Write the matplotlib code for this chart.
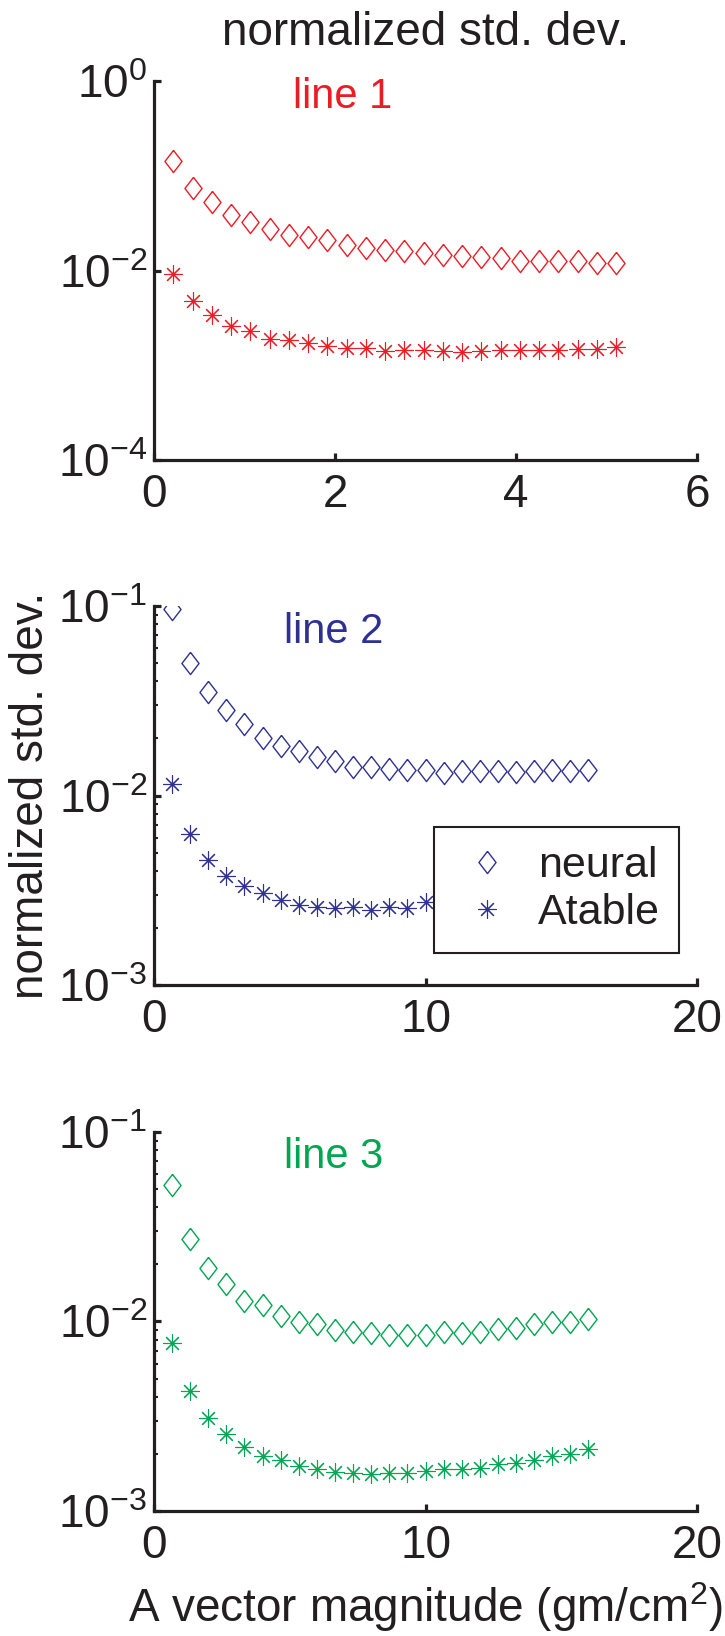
import matplotlib
matplotlib.use('Agg')
import matplotlib.pyplot as plt
from matplotlib.ticker import LogLocator, NullFormatter, NullLocator

plt.rcParams['font.family'] = ['Liberation Sans', 'DejaVu Sans']
plt.rcParams['mathtext.fontset'] = 'custom'
plt.rcParams['mathtext.rm'] = 'Liberation Sans'
plt.rcParams['axes.unicode_minus'] = False

# data
x1 = [0.21, 0.43, 0.64, 0.85, 1.06, 1.28, 1.49, 1.70, 1.91, 2.13, 2.34, 2.55,
      2.76, 2.98, 3.19, 3.40, 3.61, 3.83, 4.04, 4.25, 4.46, 4.68, 4.89, 5.10]
neural1 = [0.144, 0.0741, 0.0524, 0.0389, 0.0325, 0.0277, 0.0239, 0.0224,
           0.0210, 0.0188, 0.0173, 0.0165, 0.0160, 0.0152, 0.0147, 0.0143,
           0.0140, 0.0134, 0.0127, 0.0127, 0.0126, 0.0126, 0.0121, 0.0119]
atable1 = [0.00908, 0.00472, 0.00336, 0.00257, 0.00228, 0.00191, 0.00183,
           0.00172, 0.00161, 0.00153, 0.00151, 0.00142, 0.00144, 0.00144,
           0.00142, 0.00138, 0.00142, 0.00146, 0.00144, 0.00144, 0.00146,
           0.00149, 0.00149, 0.00156]

x23 = [0.67, 1.33, 2.0, 2.67, 3.33, 4.0, 4.67, 5.33, 6.0, 6.67, 7.33, 8.0,
       8.67, 9.33, 10.0, 10.67, 11.33, 12.0, 12.67, 13.33, 14.0, 14.67, 15.33, 16.0]
neural2 = [0.0960, 0.0501, 0.0351, 0.0282, 0.0237, 0.0201, 0.0183, 0.0171,
           0.0160, 0.0153, 0.0142, 0.0142, 0.0138, 0.0137, 0.0136, 0.0131,
           0.0134, 0.0134, 0.0134, 0.0133, 0.0134, 0.0136, 0.0134, 0.0136]
atable2 = [0.01153, 0.00627, 0.00457, 0.00376, 0.00333, 0.00307, 0.00281,
           0.00264, 0.00257, 0.00254, 0.00259, 0.00248, 0.00259, 0.00254,
           0.00275, 0.0027, 0.0028, 0.0028, 0.0029, 0.0030, 0.0030, 0.0031,
           0.0032, 0.0033]
neural3 = [0.0523, 0.0274, 0.0192, 0.0157, 0.0129, 0.0122, 0.0107, 0.00996,
           0.00967, 0.00902, 0.00879, 0.00871, 0.00853, 0.00853, 0.00853,
           0.00879, 0.00871, 0.00879, 0.00916, 0.00927, 0.00967, 0.00989,
           0.00996, 0.0103]
atable3 = [0.00774, 0.00428, 0.00309, 0.00254, 0.00218, 0.00194, 0.00185,
           0.00173, 0.00166, 0.00161, 0.00159, 0.00156, 0.00158, 0.00158,
           0.00163, 0.00166, 0.00166, 0.00168, 0.00177, 0.00179, 0.00186,
           0.00196, 0.00201, 0.00213]

line_names = ['line 1', 'line 2', 'line 3']
legend_names = ['neural', 'Atable']
xticks1 = [0, 2, 4, 6]
xticks23 = [0, 10, 20]
yticks1 = [1e-4, 1e-2, 1e0]
ytick_labels1 = [r'$\mathregular{10^{-4}}$', r'$\mathregular{10^{-2}}$', r'$\mathregular{10^{0}}$']
yticks23 = [1e-3, 1e-2, 1e-1]
ytick_labels23 = [r'$\mathregular{10^{-3}}$', r'$\mathregular{10^{-2}}$', r'$\mathregular{10^{-1}}$']

red = '#ec1c24'
blue = '#2e3192'
green = '#00a651'
ink = '#231f20'

diamond = [(0, 1), (0.77, 0), (0, -1), (-0.77, 0), (0, 1)]
star = (8, 2, 0)

fig = plt.figure(figsize=(7.25, 16.36), dpi=100)
ax1 = fig.add_axes([0.2124, 0.7188, 0.749, 0.2317])
ax2 = fig.add_axes([0.2124, 0.3979, 0.749, 0.2317])
ax3 = fig.add_axes([0.2124, 0.0764, 0.749, 0.2317])

panels = [
    (ax1, x1, neural1, atable1, red, (0, 6), (1e-4, 1e0), xticks1, yticks1, ytick_labels1, 0.256, 0.930),
    (ax2, x23, neural2, atable2, blue, (0, 20), (1e-3, 1e-1), xticks23, yticks23, ytick_labels23, 0.239, 0.902),
    (ax3, x23, neural3, atable3, green, (0, 20), (1e-3, 1e-1), xticks23, yticks23, ytick_labels23, 0.239, 0.905),
]

for i, (ax, x, yn, ya, c, xl, yl, xt, yt, ytl, tx, ty) in enumerate(panels):
    ax.plot(x, yn, linestyle='none', marker=diamond, ms=16, mfc='none', mec=c, mew=1.0, label=legend_names[0])
    ax.plot(x, ya, linestyle='none', marker=star, ms=13, mfc=c, mec=c, mew=0.8, label=legend_names[1])
    ax.set_yscale('log')
    ax.set_xlim(xl)
    ax.set_ylim(yl)
    ax.set_xticks(xt)
    ax.set_xticklabels([str(v) for v in xt])
    ax.set_yticks(yt)
    ax.set_yticklabels(ytl)
    if i > 0:
        ax.yaxis.set_minor_locator(LogLocator(base=10, subs=range(2, 10)))
        ax.yaxis.set_minor_formatter(NullFormatter())
    else:
        ax.yaxis.set_minor_locator(NullLocator())
    for s in ['top', 'right']:
        ax.spines[s].set_visible(False)
    for s in ['left', 'bottom']:
        ax.spines[s].set_linewidth(2.3)
        ax.spines[s].set_color(ink)
    ax.tick_params(which='major', direction='in', length=5, width=2.3, labelsize=33, colors=ink)
    ax.tick_params(axis='y', which='major', pad=5)
    ax.tick_params(axis='x', which='major', pad=9)
    ax.tick_params(which='minor', direction='in', length=3, width=1.5, colors=ink)
    ax.text(tx, ty, line_names[i], transform=ax.transAxes, color=c, fontsize=30, ha='left', va='baseline')

ax1.set_title('normalized std. dev.', fontsize=33, pad=26, color=ink)
ax2.set_ylabel('normalized std. dev.', fontsize=33, labelpad=4, color=ink)
ax3.set_xlabel(r'A vector magnitude (gm/cm$^2$)', fontsize=33, labelpad=9, color=ink)

leg = ax2.legend(loc='lower right', bbox_to_anchor=(0.967, 0.085), fontsize=31, frameon=True,
                 fancybox=False, edgecolor=ink, framealpha=1, borderpad=0.45,
                 handlelength=1.55, handletextpad=0.4, labelspacing=0.17, numpoints=1,
                 borderaxespad=0)
leg.get_frame().set_linewidth(1.5)
for t in leg.get_texts():
    t.set_color(ink)

fig.savefig('out.png', dpi=100)
